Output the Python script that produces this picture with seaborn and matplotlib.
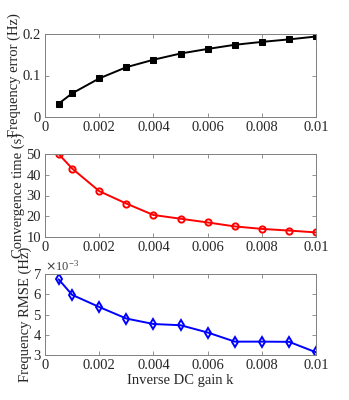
import numpy as np
import pandas as pd
import matplotlib.pyplot as plt
import seaborn as sns

# data
k = [0.0005, 0.001, 0.002, 0.003, 0.004, 0.005, 0.006, 0.007, 0.008, 0.009, 0.01]
freq_error = [0.032, 0.057, 0.093, 0.120, 0.138, 0.153, 0.164, 0.174, 0.181, 0.187, 0.194]
conv_time = [50.0, 43.0, 32.1, 26.1, 20.6, 18.8, 17.0, 15.1, 13.9, 13.1, 12.2]
rmse_e3 = [6.74, 5.97, 5.37, 4.80, 4.53, 4.47, 4.11, 3.66, 3.66, 3.65, 3.13]

df = pd.DataFrame({"k": k, "err": freq_error, "conv": conv_time, "rmse": rmse_e3})

sns.set_style("ticks")
plt.rcParams["font.family"] = ["Liberation Serif", "DejaVu Serif"]
plt.rcParams["font.size"] = 10.5
plt.rcParams["text.color"] = "#262626"
plt.rcParams["axes.labelcolor"] = "#262626"

fig = plt.figure(figsize=(3.49, 4.0), dpi=100)
ax1 = fig.add_axes([0.129, 0.7075, 0.777, 0.2075])
ax2 = fig.add_axes([0.129, 0.4075, 0.777, 0.2075])
ax3 = fig.add_axes([0.129, 0.1125, 0.777, 0.2025])

sns.lineplot(data=df, x="k", y="err", ax=ax1, color="black", marker="s",
             markersize=4, markeredgecolor="black", linewidth=1.4)
sns.lineplot(data=df, x="k", y="conv", ax=ax2, color="red", marker="o",
             markersize=4.5, markerfacecolor="none", markeredgecolor="red",
             markeredgewidth=1.4, linewidth=1.4)
sns.lineplot(data=df, x="k", y="rmse", ax=ax3, color="blue", marker="d",
             markersize=5.5, markerfacecolor="none", markeredgecolor="blue",
             markeredgewidth=1.4, linewidth=1.4)

ax1.set_ylim(0, 0.2)
ax1.set_yticks([0, 0.1, 0.2])
ax1.set_yticklabels(["0", "0.1", "0.2"])
ax2.set_ylim(10, 50)
ax2.set_yticks([10, 20, 30, 40, 50])
ax3.set_ylim(3, 7)
ax3.set_yticks([3, 4, 5, 6, 7])

ax1.set_ylabel("Frequency error (Hz)", labelpad=1)
ax2.set_ylabel("Convergence time (s)", labelpad=1)
ax3.set_ylabel("Frequency RMSE (Hz)", labelpad=1)
ax3.set_xlabel("Inverse DC gain k", labelpad=1)
ax1.set_xlabel("")
ax2.set_xlabel("")
ax3.text(0.0, 1.0, r"$\times\mathregular{10^{-3}}$", transform=ax3.transAxes,
         fontsize=9, color="#404040", va="bottom", ha="left")

xt = [0, 0.002, 0.004, 0.006, 0.008, 0.01]
xl = ["0", "0.002", "0.004", "0.006", "0.008", "0.01"]
for ax in (ax1, ax2, ax3):
    ax.set_xlim(0, 0.01)
    ax.set_xticks(xt)
    ax.set_xticklabels(xl)
    ax.tick_params(direction="in", length=3, width=0.6, color="#808080",
                   labelcolor="#262626", top=True, right=True,
                   labelsize=10.5, pad=3)
    for s in ax.spines.values():
        s.set_visible(True)
        s.set_color("#808080")
        s.set_linewidth(0.7)

fig.savefig("out.png", dpi=100)
